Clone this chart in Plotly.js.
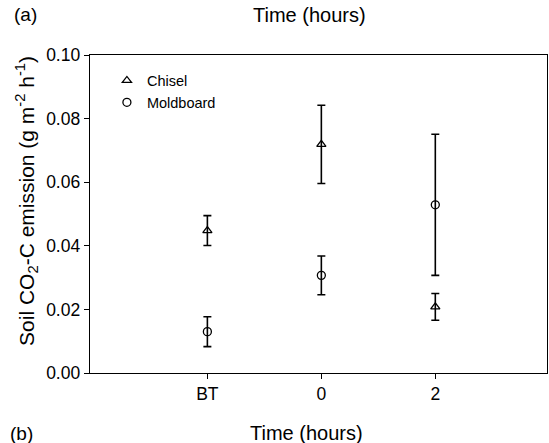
<!DOCTYPE html>
<html>
<head>
<meta charset="utf-8">
<script src="https://cdn.plot.ly/plotly-3.0.1.min.js"></script>
<style>html,body{margin:0;padding:0;background:#fff;}#chart{width:549px;height:443px;}</style>
</head>
<body>
<div id="chart"></div>
<script>
const categories = ["BT", "0", "2"];
const chiselValues = [0.0448, 0.0719, 0.0208];
const chiselErrors = [0.0047, 0.0123, 0.0042];
const moldboardValues = [0.0130, 0.0307, 0.0529];
const moldboardErrors = [0.0047, 0.0061, 0.0222];
const yTicks = [0, 0.02, 0.04, 0.06, 0.08, 0.10];

const font = "Liberation Sans, Arial, sans-serif";

function series(name, vals, errs, symbol) {
  return {
    type: "scatter", mode: "markers", name: name,
    x: categories, y: vals,
    marker: {symbol: symbol, size: 8, color: "#000", line: {color: "#000", width: 1.3}},
    error_y: {type: "data", array: errs, visible: true, color: "#000", thickness: 1.6, width: 4}
  };
}

const data = [
  series("Chisel", chiselValues, chiselErrors, "triangle-up-open"),
  series("Moldboard", moldboardValues, moldboardErrors, "circle-open")
];

const layout = {
  width: 549, height: 443,
  margin: {l: 90, r: 2, t: 55, b: 70},
  paper_bgcolor: "#fff", plot_bgcolor: "#fff",
  font: {family: font, color: "#000", size: 17},
  showlegend: true,
  legend: {x: 0.037, y: 0.97, xanchor: "left", yanchor: "top", bgcolor: "rgba(0,0,0,0)",
           font: {size: 14.5, family: font}, tracegroupgap: 0, itemwidth: 30},
  xaxis: {
    type: "category", range: [-1.03, 2.98],
    showline: true, linecolor: "#000", linewidth: 1.3, mirror: true,
    ticks: "outside", ticklen: 5, tickcolor: "#000", showgrid: false, zeroline: false,
    tickfont: {size: 17.5, family: font}
  },
  yaxis: {
    range: [0, 0.1], tickvals: yTicks, tickformat: ".2f",
    showline: true, linecolor: "#000", linewidth: 1.3, mirror: true,
    ticks: "outside", ticklen: 5, tickcolor: "#000", showgrid: false, zeroline: false,
    tickfont: {size: 17.5, family: font}
  },
  annotations: [
    {text: "Soil CO<sub>2</sub>-C emission (g m<sup>-2</sup> h<sup>-1</sup>)", textangle: -90,
     xref: "paper", yref: "paper", x: -0.138, y: 0.541, xanchor: "center", yanchor: "middle",
     showarrow: false, font: {size: 21, family: font}},
    {text: "(a)", xref: "paper", yref: "paper", x: -0.171, y: 1.126, xanchor: "left", yanchor: "middle", showarrow: false, font: {size: 19, family: font}},
    {text: "Time (hours)", xref: "paper", yref: "paper", x: 0.48, y: 1.126, xanchor: "center", yanchor: "middle", showarrow: false, font: {size: 20, family: font}},
    {text: "(b)", xref: "paper", yref: "paper", x: -0.18, y: -0.19, xanchor: "left", yanchor: "middle", showarrow: false, font: {size: 19, family: font}},
    {text: "Time (hours)", xref: "paper", yref: "paper", x: 0.474, y: -0.19, xanchor: "center", yanchor: "middle", showarrow: false, font: {size: 20, family: font}}
  ]
};

Plotly.newPlot("chart", data, layout, {displayModeBar: false, staticPlot: true});
</script>
</body>
</html>
